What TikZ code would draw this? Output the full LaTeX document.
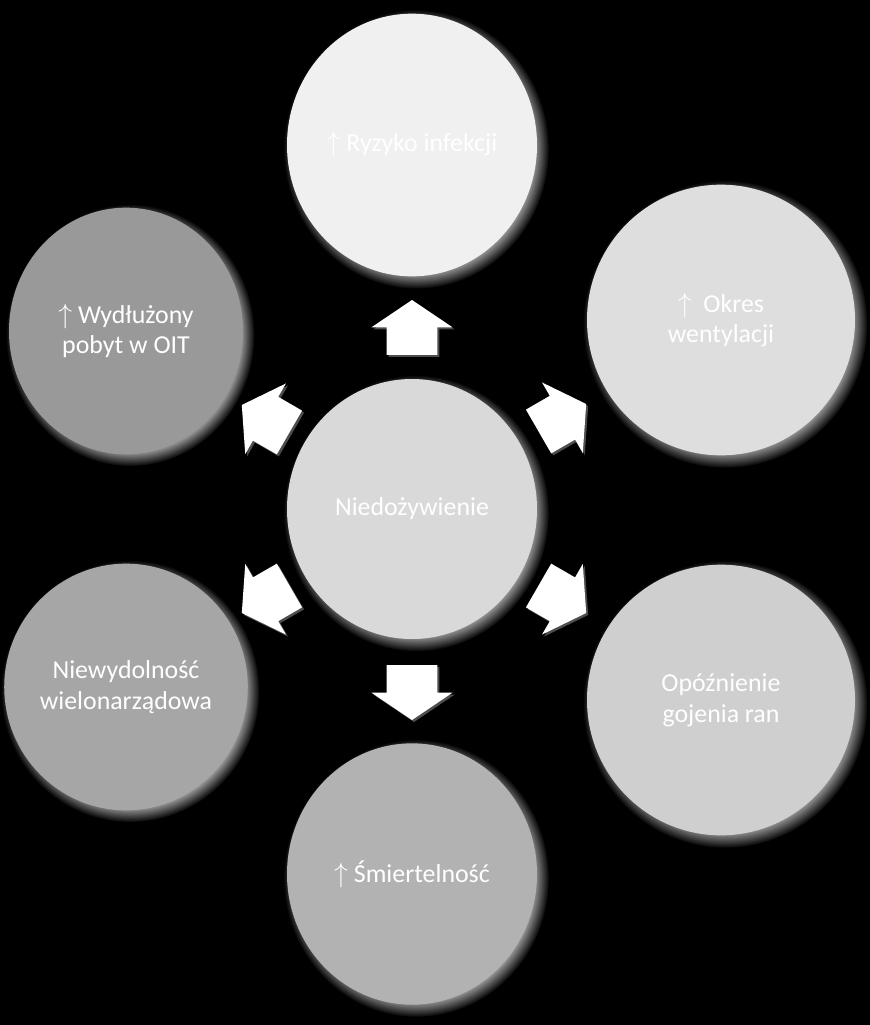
\documentclass[tikz,border=0pt]{standalone}
\usepackage{fontspec}
\setmainfont{Carlito}
\usepackage{tikz}
\usetikzlibrary{shapes.geometric,shapes.arrows,shadows}

\begin{document}
\begin{tikzpicture}[
    x=0.75pt, y=-0.75pt,
    ball/.style={ellipse, fill=#1, inner sep=0pt, align=center, text=white,
        font=\fontsize{19.4}{23}\selectfont,
        circular drop shadow={fill=white, opacity=.8, shadow scale=1.06, shadow xshift=3pt, shadow yshift=-3pt}},
    mid/.style={minimum width=187.5pt, minimum height=195pt},
    sml/.style={minimum width=175.5pt, minimum height=185pt},
    lrg/.style={minimum width=201pt, minimum height=203pt},
    blk/.style={single arrow, fill=white, inner xsep=0pt, inner ysep=18.75pt, minimum height=41.25pt,
        single arrow head extend=11.6pt, single arrow tip angle=112, rotate=#1,
        drop shadow={fill=white, opacity=.3, shadow xshift=1.5pt, shadow yshift=-1.5pt}}
]
\fill[black] (0,0) rectangle (870,1025);
\useasboundingbox (0,0) rectangle (870,1025);

\node[ball=black!6, mid, minimum height=197pt] (inf) at (412,145) {$\uparrow$ Ryzyko infekcji};
\node[ball=black!13, lrg] (went) at (721,320) {$\uparrow$\ \ Okres\\wentylacji};
\node[ball=black!19, lrg] (rany) at (721,700) {Opóźnienie\\gojenia ran};
\node[ball=black!30, mid, minimum height=196pt] (smier) at (412,874) {$\uparrow$ Śmiertelność};
\node[ball=black!35, sml] (nwd) at (126,687) {Niewydolność\\wielonarządowa};
\node[ball=black!40, sml] (oit) at (126,331) {$\uparrow$ Wydłużony\\pobyt w OIT};
\node[ball=black!15, mid] (nd) at (412,509) {Niedożywienie};

\node[blk=90] (a-inf) at (412,336) {};
\node[blk=30] (a-went) at (555,422) {};
\node[blk=-30] (a-rany) at (555,595) {};
\node[blk=-90] (a-smier) at (412,684) {};
\node[blk=210] (a-nwd) at (273,595) {};
\node[blk=150] (a-oit) at (273,423) {};
\end{tikzpicture}
\end{document}
